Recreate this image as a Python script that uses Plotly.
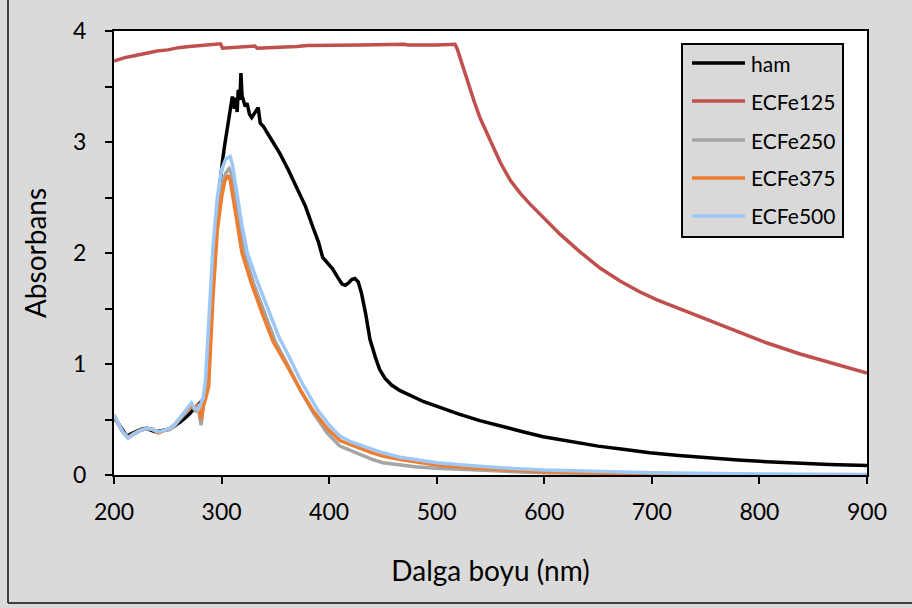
import plotly.graph_objects as go

# ---- data ----
ham_x = [200, 204, 208, 212, 216, 220, 225, 230, 233, 238, 244, 250, 256, 262, 268, 272, 276, 279, 281, 283, 285, 287, 289, 291, 293, 296, 299, 301, 303, 305, 308, 310, 312, 313, 314.5, 315.5, 317, 318, 319, 320, 322, 323.6, 326, 328, 331, 334, 336, 339, 342, 348, 354, 362, 370, 378, 385, 390, 394, 398, 403, 408, 412, 415, 418, 421, 424, 427, 430, 434, 438, 443, 447, 452, 458, 466, 475, 488, 503, 520, 540, 559, 580, 599, 625, 650, 675, 698, 725, 750, 780, 807, 835, 865, 900]
ham_y = [0.52, 0.46, 0.40, 0.35, 0.37, 0.39, 0.41, 0.42, 0.41, 0.39, 0.40, 0.41, 0.44, 0.48, 0.53, 0.57, 0.62, 0.64, 0.66, 0.68, 0.72, 0.95, 1.35, 1.75, 2.05, 2.40, 2.70, 2.84, 2.98, 3.10, 3.30, 3.41, 3.30, 3.40, 3.27, 3.47, 3.38, 3.62, 3.42, 3.38, 3.32, 3.35, 3.25, 3.22, 3.26, 3.31, 3.17, 3.14, 3.09, 3.00, 2.90, 2.75, 2.59, 2.42, 2.23, 2.10, 1.96, 1.92, 1.86, 1.78, 1.72, 1.71, 1.73, 1.76, 1.77, 1.74, 1.64, 1.45, 1.22, 1.06, 0.95, 0.87, 0.81, 0.76, 0.72, 0.66, 0.61, 0.55, 0.49, 0.44, 0.39, 0.345, 0.30, 0.26, 0.23, 0.20, 0.175, 0.155, 0.135, 0.12, 0.107, 0.095, 0.085]

e125_x = [200, 210, 220, 230, 240, 250, 260, 270, 280, 290, 299, 301, 310, 320, 331, 333, 350, 370, 380, 400, 430, 470, 473, 500, 517, 519, 521, 523, 525, 528, 531, 535, 540.3, 549.6, 558.9, 568.2, 577.5, 586.8, 596, 614.6, 633.2, 651.8, 670.4, 689, 704.8, 726.2, 744.8, 772.7, 807.1, 837.8, 868.5, 900]
e125_y = [3.73, 3.76, 3.78, 3.80, 3.82, 3.83, 3.85, 3.86, 3.87, 3.875, 3.885, 3.845, 3.85, 3.86, 3.865, 3.845, 3.85, 3.86, 3.87, 3.875, 3.875, 3.88, 3.875, 3.875, 3.88, 3.84, 3.78, 3.70, 3.64, 3.55, 3.47, 3.36, 3.216, 3.009, 2.82, 2.658, 2.54, 2.44, 2.35, 2.17, 2.01, 1.865, 1.748, 1.649, 1.577, 1.495, 1.423, 1.315, 1.189, 1.09, 1.009, 0.919]

e250_x = [200, 204, 208, 213, 218, 224, 231, 236, 241, 246, 252, 257, 261, 266, 272, 276, 278, 280, 281, 283, 285, 287, 289, 292, 296, 300, 304, 307, 309, 312, 316, 321, 330, 340, 350, 361, 374, 386, 398, 410, 420, 429, 440, 450, 466, 480, 500, 530, 560, 600, 650, 700, 800, 900]
e250_y = [0.53, 0.46, 0.39, 0.34, 0.37, 0.40, 0.42, 0.41, 0.38, 0.40, 0.41, 0.45, 0.50, 0.56, 0.62, 0.58, 0.63, 0.50, 0.45, 0.62, 0.75, 1.00, 1.40, 1.90, 2.35, 2.60, 2.72, 2.76, 2.72, 2.55, 2.30, 2.00, 1.72, 1.45, 1.20, 1.00, 0.75, 0.55, 0.38, 0.26, 0.22, 0.19, 0.14, 0.11, 0.09, 0.075, 0.06, 0.045, 0.035, 0.02, 0.012, 0.008, 0.003, 0.0]

e375_x = [200, 204, 208, 213, 218, 224, 231, 236, 241, 246, 252, 257, 261, 266, 272, 276, 278, 280, 281, 283, 285, 288, 290, 292, 296, 300, 303, 306, 308, 310, 314, 319, 328, 338, 348, 360, 373, 385, 398, 410, 420, 429, 440, 450, 466, 480, 500, 530, 560, 600, 650, 700, 800, 900]
e375_y = [0.54, 0.46, 0.39, 0.34, 0.37, 0.40, 0.42, 0.41, 0.38, 0.40, 0.42, 0.46, 0.51, 0.57, 0.62, 0.60, 0.64, 0.52, 0.50, 0.62, 0.68, 0.80, 1.20, 1.60, 2.20, 2.50, 2.65, 2.70, 2.66, 2.55, 2.30, 2.00, 1.72, 1.45, 1.20, 1.00, 0.77, 0.58, 0.42, 0.31, 0.27, 0.24, 0.20, 0.17, 0.14, 0.12, 0.09, 0.065, 0.05, 0.03, 0.018, 0.01, 0.003, 0.0]

e500_x = [200, 204, 208, 213, 218, 224, 231, 236, 241, 246, 252, 257, 261, 266, 272, 275, 278, 280, 283, 285, 286, 289, 292, 296, 300, 304, 306, 308, 310, 314, 319, 324, 333, 343, 353, 364, 373, 389, 400, 410, 420, 429, 440, 450, 466, 480, 500, 530, 559, 600, 650, 700, 800, 900]
e500_y = [0.54, 0.46, 0.39, 0.33, 0.37, 0.40, 0.42, 0.41, 0.39, 0.40, 0.42, 0.46, 0.51, 0.57, 0.65, 0.60, 0.59, 0.63, 0.70, 0.85, 1.04, 1.50, 2.05, 2.50, 2.75, 2.85, 2.86, 2.87, 2.80, 2.55, 2.25, 2.00, 1.75, 1.50, 1.25, 1.04, 0.86, 0.59, 0.45, 0.35, 0.30, 0.27, 0.23, 0.20, 0.16, 0.14, 0.11, 0.085, 0.065, 0.045, 0.03, 0.02, 0.01, 0.005]

series_names = ["ham", "ECFe125", "ECFe250", "ECFe375", "ECFe500"]
series_x = [ham_x, e125_x, e250_x, e375_x, e500_x]
series_y = [ham_y, e125_y, e250_y, e375_y, e500_y]
series_colors = ["#000000", "#c0504d", "#a5a5a5", "#ed7d31", "#9dc8f5"]

x_ticks = [200, 300, 400, 500, 600, 700, 800, 900]
y_ticks = [0, 1, 2, 3, 4]

FONT = "Lato"
fig = go.Figure()
for name, xs, ys, col in zip(series_names, series_x, series_y, series_colors):
    fig.add_trace(go.Scatter(x=xs, y=ys, mode="lines", name=name, showlegend=False,
                             line=dict(color=col, width=3.5)))

L, R, T, B = 114, 45, 31, 133
W, H = 912, 608
PW, PH = W - L - R, H - T - B


def px(xp):
    return (xp - L) / PW


def py(yp):
    return (H - B - yp) / PH


fig.update_layout(
    width=W, height=H,
    margin=dict(l=L, r=R, t=T, b=B),
    paper_bgcolor="#dadada",
    plot_bgcolor="#ffffff",
    font=dict(family=FONT, size=23, color="#000000"),
    showlegend=False,
    xaxis=dict(range=[200, 900], tickvals=x_ticks, ticktext=[str(v) for v in x_ticks],
               showgrid=False, zeroline=False,
               showline=True, linecolor="#000000", linewidth=2, mirror=True,
               ticks="outside", ticklen=7, tickwidth=2, tickcolor="#000000",
               ticklabelstandoff=8,
               title=dict(text="Dalga boyu (nm)", font=dict(family=FONT, size=28), standoff=38)),
    yaxis=dict(range=[0, 4], tickvals=y_ticks, ticktext=[str(v) for v in y_ticks],
               showgrid=False, zeroline=False,
               showline=True, linecolor="#000000", linewidth=2, mirror=True,
               ticks="outside", ticklen=7, tickwidth=2, tickcolor="#000000",
               minor=dict(dtick=0.5, ticks="outside", ticklen=7, tickwidth=2, tickcolor="#000000"),
               ticklabelstandoff=14,
               title=dict(text="Absorbans", font=dict(family=FONT, size=28), standoff=18)),
)

# legend (drawn as a box with line samples and labels, Excel style)
fig.add_shape(type="rect", xref="paper", yref="paper",
              x0=px(682), x1=px(843), y0=py(237), y1=py(44),
              fillcolor="#d9d9d9", line=dict(color="#000000", width=2), layer="above")
legend_rows = [63, 101, 140, 178, 216]
for name, col, yr in zip(series_names, series_colors, legend_rows):
    fig.add_shape(type="line", xref="paper", yref="paper",
                  x0=px(692), x1=px(745), y0=py(yr), y1=py(yr),
                  line=dict(color=col, width=3.5), layer="above")
    fig.add_annotation(xref="paper", yref="paper", x=px(749), y=py(yr),
                       xanchor="left", yanchor="middle", text=name, showarrow=False,
                       font=dict(family=FONT, size=21, color="#000000"))

# outer chart-area frame (left and bottom edges visible)
x0 = px(8)
y0 = py(603)
fig.add_shape(type="line", xref="paper", yref="paper", x0=x0, x1=x0, y0=y0, y1=1.2,
              line=dict(color="#404040", width=2))
fig.add_shape(type="line", xref="paper", yref="paper", x0=x0, x1=1.2, y0=y0, y1=y0,
              line=dict(color="#404040", width=2))

fig.write_html("out.html")
